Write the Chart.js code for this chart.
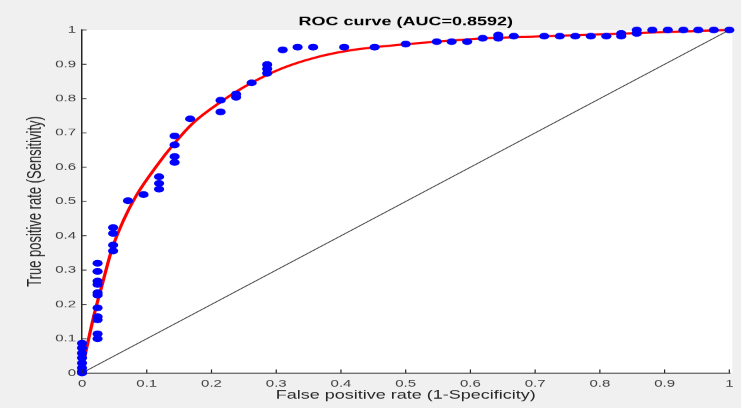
<!DOCTYPE html>
<html>
<head>
<meta charset="utf-8">
<script src="https://cdn.jsdelivr.net/npm/chart.js@4.4.1/dist/chart.umd.min.js"></script>
<style>
  html, body { margin: 0; padding: 0; background: #f0f0f0; overflow: hidden; }
  #wrap { width: 494px; height: 408px; transform: scaleX(1.5); transform-origin: 0 0; }
  canvas { display: block; }
</style>
</head>
<body>
<div id="wrap"><canvas id="c" width="494" height="408"></canvas></div>
<script>
// Observed ROC points (false positive rate, true positive rate)
const fprPoints = [
  0, 0, 0, 0, 0, 0, 0, 0,
  0.024, 0.024, 0.024, 0.024, 0.024, 0.024, 0.024, 0.024, 0.024, 0.024, 0.024,
  0.048, 0.048, 0.048, 0.048,
  0.071, 0.095,
  0.119, 0.119, 0.119,
  0.143, 0.143, 0.143, 0.143,
  0.167,
  0.214, 0.214,
  0.238, 0.238,
  0.262,
  0.286, 0.286, 0.286,
  0.310, 0.333, 0.357, 0.405, 0.452, 0.500,
  0.548, 0.571, 0.595, 0.619, 0.643, 0.643, 0.667,
  0.714, 0.738, 0.762, 0.786, 0.810, 0.833, 0.833, 0.857, 0.857,
  0.881, 0.905, 0.929, 0.952, 0.976, 1.000
];
const tprPoints = [
  0, 0.005, 0.015, 0.029, 0.044, 0.058, 0.073, 0.087,
  0.100, 0.114, 0.155, 0.164, 0.190, 0.227, 0.234, 0.258, 0.268, 0.296, 0.320,
  0.356, 0.373, 0.407, 0.424,
  0.502, 0.520,
  0.536, 0.553, 0.572,
  0.614, 0.631, 0.665, 0.691,
  0.741,
  0.761, 0.795,
  0.804, 0.813,
  0.846,
  0.874, 0.887, 0.899,
  0.942, 0.950, 0.950, 0.950, 0.950, 0.959,
  0.966, 0.966, 0.966, 0.976, 0.976, 0.985, 0.982,
  0.982, 0.982, 0.982, 0.982, 0.982, 0.982, 0.990, 0.990, 1.000,
  1.000, 1.000, 1.000, 1.000, 1.000, 1.000
];
// Smooth fitted ROC curve
const fitFpr = [0, 0.004, 0.010, 0.020, 0.030, 0.046, 0.064, 0.084, 0.115, 0.142, 0.171, 0.214, 0.258, 0.310, 0.361, 0.412, 0.464, 0.515, 0.617, 0.700, 0.800, 0.900, 1.000];
const fitTpr = [0, 0.045, 0.098, 0.180, 0.250, 0.360, 0.445, 0.518, 0.603, 0.668, 0.728, 0.790, 0.842, 0.889, 0.920, 0.940, 0.952, 0.961, 0.975, 0.981, 0.987, 0.994, 1.000];
// Chance diagonal
const diagFpr = [0, 1];
const diagTpr = [0, 1];
// Axis ticks
const tickValues = [0, 0.1, 0.2, 0.3, 0.4, 0.5, 0.6, 0.7, 0.8, 0.9, 1];
const tickLabels = ['0', '0.1', '0.2', '0.3', '0.4', '0.5', '0.6', '0.7', '0.8', '0.9', '1'];
const chartTitle = 'ROC curve (AUC=0.8592)';
const xTitle = 'False positive rate (1-Specificity)';
const yTitle = 'True positive rate (Sensitivity)';

const toXY = (xs, ys) => xs.map((x, i) => ({ x: x, y: ys[i] }));
const FONT = "'Liberation Sans', Arial, Helvetica, sans-serif";
const AXIS = '#262626';

const areaPlugin = {
  id: 'area',
  beforeDraw(chart) {
    const { ctx, chartArea: a } = chart;
    ctx.save();
    ctx.fillStyle = '#f0f0f0';
    ctx.fillRect(0, 0, chart.width, chart.height);
    ctx.fillStyle = '#ffffff';
    ctx.fillRect(a.left, a.top, a.right - a.left + 2, a.bottom - a.top);
    ctx.restore();
  },
  afterDraw(chart) {
    const { ctx, chartArea: a, scales } = chart;
    ctx.save();
    ctx.strokeStyle = AXIS;
    ctx.lineWidth = 0.8;
    ctx.beginPath();
    scales.x.ticks.forEach(t => {
      const p = scales.x.getPixelForValue(t.value);
      ctx.moveTo(p, a.bottom);
      ctx.lineTo(p, a.bottom - 3.5);
    });
    scales.y.ticks.forEach(t => {
      const p = scales.y.getPixelForValue(t.value);
      ctx.moveTo(a.left, p);
      ctx.lineTo(a.left + 3, p);
    });
    ctx.stroke();
    ctx.restore();
  }
};

const tickFmt = (v) => {
  const i = tickValues.findIndex(t => Math.abs(t - v) < 1e-6);
  return i >= 0 ? tickLabels[i] : '';
};

new Chart(document.getElementById('c'), {
  type: 'scatter',
  data: {
    datasets: [
      {
        label: 'ROC points',
        data: toXY(fprPoints, tprPoints),
        pointRadius: 3.4,
        pointHoverRadius: 3.4,
        pointBackgroundColor: '#0000ff',
        pointBorderColor: '#0000ff',
        pointBorderWidth: 0,
        showLine: false,
        order: 0
      },
      {
        label: 'Fit',
        data: toXY(fitFpr, fitTpr),
        showLine: true,
        borderColor: '#ff0000',
        borderWidth: 2.2,
        pointRadius: 0,
        cubicInterpolationMode: 'monotone',
        fill: false,
        order: 1
      },
      {
        label: 'Chance',
        data: toXY(diagFpr, diagTpr),
        showLine: true,
        borderColor: '#3a3a3a',
        borderWidth: 0.7,
        pointRadius: 0,
        fill: false,
        order: 2
      }
    ]
  },
  options: {
    responsive: false,
    devicePixelRatio: 1.5,
    animation: false,
    events: [],
    clip: false,
    layout: { padding: { left: 0, right: 6, top: 0, bottom: 0 } },
    plugins: {
      legend: { display: false },
      tooltip: { enabled: false },
      title: {
        display: true,
        text: chartTitle,
        fullSize: false,
        color: '#000000',
        font: { family: FONT, size: 12, weight: 'bold' },
        padding: { top: 14.8, bottom: 0.8 }
      }
    },
    scales: {
      x: {
        type: 'linear',
        min: 0, max: 1,
        afterFit(s) { s.height = 35; },
        afterBuildTicks(s) { s.ticks = tickValues.map(v => ({ value: v })); },
        ticks: {
          callback: tickFmt,
          color: '#404040',
          font: { family: FONT, size: 10 },
          padding: 5,
          maxRotation: 0,
          autoSkip: false
        },
        grid: { display: true, drawOnChartArea: false, drawTicks: false, color: 'rgba(0,0,0,0)' },
        border: { display: true, color: AXIS, width: 1 },
        title: {
          display: true,
          text: xTitle,
          color: '#262626',
          font: { family: FONT, size: 12 },
          padding: { top: 5.5, bottom: 5.5 }
        }
      },
      y: {
        type: 'linear',
        min: 0, max: 1,
        afterFit(s) { s.width = 54.7; },
        afterBuildTicks(s) { s.ticks = tickValues.map(v => ({ value: v })); },
        ticks: {
          callback: tickFmt,
          color: '#404040',
          font: { family: FONT, size: 10 },
          padding: 4,
          autoSkip: false
        },
        grid: { display: true, drawOnChartArea: false, drawTicks: false, color: 'rgba(0,0,0,0)' },
        border: { display: true, color: AXIS, width: 1 },
        title: {
          display: true,
          text: yTitle,
          color: '#262626',
          font: { family: FONT, size: 13 },
          padding: { top: 16.2, bottom: 0 }
        }
      }
    }
  },
  plugins: [areaPlugin]
});
</script>
</body>
</html>
